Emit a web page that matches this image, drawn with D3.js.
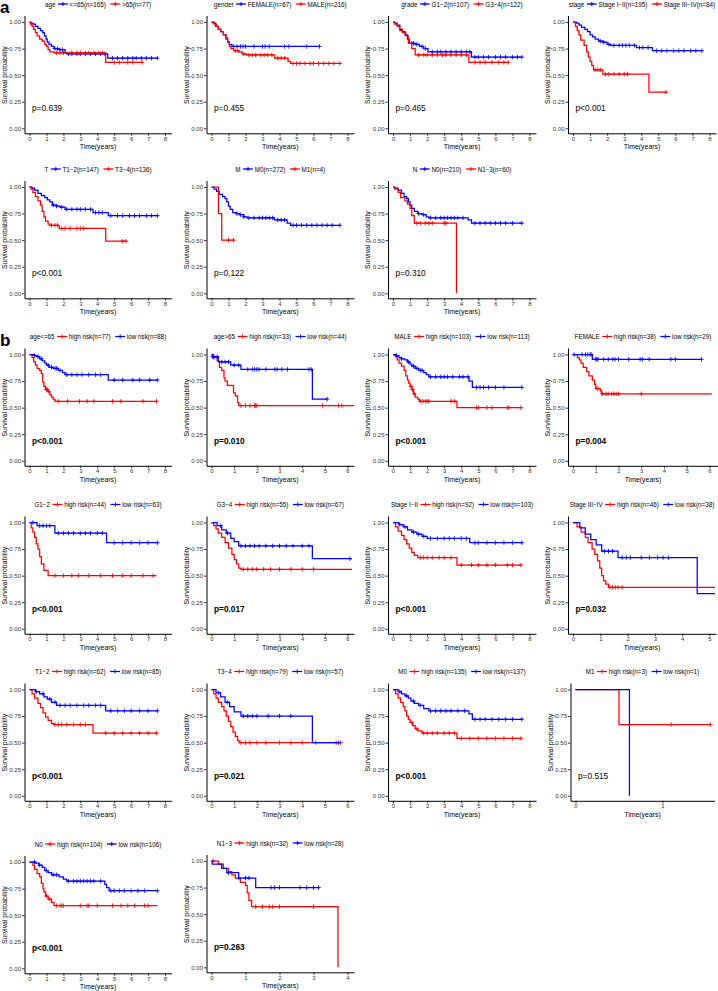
<!DOCTYPE html>
<html>
<head>
<meta charset="utf-8">
<script src="https://cdn.jsdelivr.net/npm/d3@7"></script>
<style>
  body { margin: 0; background: #fff; }
  svg { display: block; font-family: "Liberation Sans", Arial, sans-serif; }
</style>
</head>
<body>
<div id="chart"></div>
<script>
// ---- data: steps are [time, survival from that time on], last pair = end of curve ----
const yTicks = [0, 0.25, 0.5, 0.75, 1];

// a: age
const ageLe65Steps = [[0,1],[0.08,0.99],[0.2,0.98],[0.35,0.96],[0.5,0.94],[0.65,0.92],[0.78,0.9],[0.88,0.87],[0.98,0.84],[1.05,0.81],[1.15,0.79],[1.3,0.77],[1.45,0.75],[1.7,0.74],[2.1,0.71],[2.2,0.7],[4.62,0.66],[7.55,0.66]];
const ageLe65Cens = [1.5,1.65,1.8,1.95,2.3,2.5,2.8,3.0,3.3,3.6,3.9,4.2,4.45,4.9,5.2,5.5,5.8,6.1,6.3,6.6,6.9,7.2,7.55];
const ageGt65Steps = [[0,1],[0.05,0.98],[0.15,0.96],[0.25,0.93],[0.35,0.9],[0.45,0.87],[0.6,0.84],[0.75,0.82],[0.9,0.79],[1.0,0.77],[1.1,0.74],[1.2,0.72],[1.45,0.71],[4.5,0.62],[6.65,0.62]];
const ageGt65Cens = [1.6,1.8,2.0,2.5,2.8,3.0,3.3,3.5,3.8,4.1,4.3,5.0,5.3,5.8,6.1,6.65];
// a: gender
const femaleSteps = [[0,1],[0.1,0.99],[0.25,0.96],[0.4,0.93],[0.55,0.91],[0.7,0.88],[0.85,0.84],[0.95,0.81],[1.05,0.79],[1.2,0.77],[6.35,0.77]];
const femaleCens = [1.3,1.5,1.7,1.85,2.0,2.5,3.0,3.15,3.4,4.3,4.55,5.6,6.35];
const maleSteps = [[0,1],[0.15,0.98],[0.3,0.96],[0.4,0.93],[0.55,0.91],[0.7,0.88],[0.85,0.85],[0.95,0.81],[1.05,0.77],[1.15,0.75],[1.3,0.73],[1.6,0.72],[1.8,0.7],[2.05,0.69],[3.72,0.66],[4.5,0.63],[4.65,0.61],[7.55,0.61]];
const maleCens = [1.4,1.55,1.9,2.2,2.4,2.6,2.9,3.1,3.3,3.55,3.9,4.1,4.3,4.8,5.0,5.2,5.5,5.8,6.0,6.3,6.6,6.9,7.2,7.55];
// a: grade
const g12Steps = [[0,1],[0.1,0.99],[0.25,0.97],[0.4,0.93],[0.55,0.91],[0.7,0.88],[0.85,0.84],[0.95,0.8],[1.3,0.79],[1.55,0.77],[1.8,0.75],[2.05,0.72],[4.6,0.67],[7.55,0.67]];
const g12Cens = [1.1,1.2,1.4,1.7,1.9,2.3,2.6,2.8,3.1,3.4,3.7,4.0,4.3,4.5,4.8,5.0,5.3,5.6,6.0,6.3,6.6,7.0,7.3,7.55];
const g34Steps = [[0,1],[0.1,0.98],[0.25,0.96],[0.4,0.92],[0.55,0.9],[0.75,0.87],[0.9,0.8],[1.1,0.75],[1.3,0.69],[4.45,0.62],[6.75,0.62]];
const g34Cens = [1.5,1.8,2.0,2.3,2.6,2.9,3.1,3.4,3.7,4.0,4.3,4.8,5.1,5.4,5.8,6.2,6.5,6.75];
// a: stage
const st12Steps = [[0,1],[0.2,0.99],[0.35,0.97],[0.5,0.95],[0.7,0.93],[0.85,0.91],[1.0,0.88],[1.15,0.86],[1.3,0.84],[1.5,0.82],[1.75,0.81],[2.0,0.79],[2.2,0.78],[3.72,0.76],[4.65,0.73],[7.55,0.73]];
const st12Cens = [1.6,1.8,2.1,2.4,2.7,2.9,3.1,3.3,3.6,3.9,4.1,4.4,4.9,5.2,5.5,5.9,6.2,6.5,6.9,7.2,7.55];
const st34Steps = [[0,1],[0.15,0.96],[0.25,0.92],[0.35,0.88],[0.45,0.83],[0.65,0.78],[0.8,0.72],[0.9,0.67],[1.0,0.63],[1.1,0.59],[1.2,0.55],[1.75,0.51],[4.45,0.34],[5.45,0.34]];
const st34Cens = [1.3,1.45,1.6,1.9,2.1,2.4,2.7,3.0,3.2,5.45];
// a: T
const t12Steps = [[0,1],[0.15,0.99],[0.3,0.97],[0.5,0.94],[0.7,0.92],[0.9,0.9],[1.05,0.88],[1.2,0.86],[1.35,0.83],[1.6,0.82],[1.8,0.81],[2.1,0.79],[3.75,0.76],[4.65,0.73],[7.55,0.73]];
const t12Cens = [1.4,1.6,1.9,2.2,2.5,2.8,3.0,3.3,3.6,3.9,4.1,4.3,4.8,5.2,5.5,5.9,6.2,6.5,6.9,7.2,7.55];
const t34Steps = [[0,1],[0.1,0.98],[0.2,0.95],[0.35,0.91],[0.5,0.87],[0.65,0.83],[0.75,0.77],[0.85,0.72],[0.95,0.68],[1.1,0.65],[1.2,0.64],[1.75,0.61],[4.5,0.49],[5.7,0.49]];
const t34Cens = [1.3,1.5,1.65,1.9,2.1,2.4,2.8,3.0,3.2,5.5,5.7];
// a: M
const m0Steps = [[0,1],[0.15,0.98],[0.3,0.96],[0.45,0.93],[0.65,0.91],[0.8,0.89],[0.9,0.86],[1.0,0.82],[1.1,0.79],[1.25,0.76],[1.45,0.75],[1.65,0.74],[1.9,0.72],[2.1,0.71],[3.7,0.69],[4.45,0.66],[4.65,0.64],[7.55,0.64]];
const m0Cens = [1.5,1.7,1.9,2.2,2.5,2.8,3.0,3.2,3.4,3.6,3.9,4.1,4.3,4.8,5.0,5.3,5.6,5.9,6.2,6.5,6.8,7.1,7.55];
const m1Steps = [[0,1],[0.41,0.75],[0.6,0.5],[1.3,0.5]];
const m1Cens = [1.0,1.3];
// a: N
const n0Steps = [[0,1],[0.1,0.99],[0.3,0.97],[0.5,0.94],[0.65,0.91],[0.8,0.89],[0.9,0.86],[1.0,0.83],[1.1,0.8],[1.25,0.77],[1.45,0.75],[1.7,0.74],[1.95,0.72],[2.1,0.71],[4.4,0.69],[4.6,0.66],[7.55,0.66]];
const n0Cens = [1.5,1.8,2.2,2.5,2.8,3.0,3.2,3.4,3.6,3.8,4.1,4.8,5.1,5.4,5.7,6.0,6.3,6.6,7.0,7.55];
const n13Steps = [[0,1],[0.1,0.98],[0.3,0.95],[0.45,0.9],[0.7,0.87],[0.85,0.84],[1.0,0.8],[1.1,0.73],[1.25,0.66],[3.72,0]];
const n13Cens = [1.4,1.6,1.9,2.1,2.3,3.0,3.1];

// b: subgroup risk curves (high risk = red, low risk = blue)
const le65HighSteps = [[0,1],[0.15,0.97],[0.25,0.93],[0.35,0.9],[0.45,0.87],[0.6,0.85],[0.7,0.82],[0.78,0.74],[0.85,0.7],[0.95,0.67],[1.1,0.65],[1.2,0.62],[1.3,0.6],[1.4,0.58],[1.5,0.56],[7.5,0.56]];
const le65HighCens = [1.0,1.05,1.15,1.7,2.25,2.95,3.4,3.8,4.9,5.4,6.7,7.5];
const le65LowSteps = [[0,1],[0.3,0.99],[0.45,0.98],[0.6,0.96],[0.75,0.94],[0.9,0.92],[1.0,0.9],[1.15,0.88],[1.4,0.87],[1.7,0.85],[1.95,0.83],[2.1,0.81],[4.65,0.76],[7.55,0.76]];
const le65LowCens = [0.3,0.5,0.7,1.1,1.3,1.5,1.6,1.8,2.2,2.5,2.8,3.1,3.5,3.9,4.2,5.0,5.5,6.1,6.5,7.1,7.55];

const gt65HighSteps = [[0,1],[0.1,0.97],[0.25,0.94],[0.35,0.88],[0.45,0.85],[0.55,0.78],[0.6,0.75],[0.7,0.71],[0.97,0.64],[1.05,0.61],[1.15,0.55],[1.2,0.52],[6.3,0.52]];
const gt65HighCens = [0.1,1.3,1.5,1.7,1.9,1.95,2.0,4.9,5.6,5.75];
const gt65LowSteps = [[0,1],[0.05,0.98],[0.3,0.93],[0.85,0.9],[1.3,0.86],[4.45,0.58],[5.1,0.58]];
const gt65LowCens = [0.05,0.25,0.45,0.6,0.75,1.0,1.2,1.6,1.8,1.9,2.0,2.1,2.4,2.8,2.9,3.1,3.35,4.3,4.4,5.1];

const maleHighSteps = [[0,1],[0.15,0.98],[0.25,0.95],[0.35,0.92],[0.5,0.89],[0.65,0.85],[0.75,0.8],[0.85,0.76],[0.92,0.73],[1.0,0.7],[1.1,0.67],[1.2,0.63],[1.3,0.6],[1.45,0.58],[1.55,0.56],[3.75,0.5],[7.5,0.5]];
const maleHighCens = [1.05,1.15,1.25,1.6,1.75,1.9,2.0,2.1,3.4,3.6,4.9,5.0,5.5,5.8,6.7,6.8,7.5];
const maleLowSteps = [[0,1],[0.2,0.99],[0.35,0.97],[0.5,0.96],[0.7,0.95],[0.85,0.93],[1.0,0.91],[1.1,0.89],[1.3,0.87],[1.5,0.85],[1.8,0.83],[1.95,0.81],[2.1,0.79],[4.45,0.75],[4.65,0.69],[7.55,0.69]];
const maleLowCens = [0.2,0.5,0.9,1.2,1.4,1.6,1.7,2.2,2.5,2.8,3.0,3.2,3.5,3.9,4.1,4.4,4.9,5.1,5.3,5.6,6.0,6.5,7.55];

const femaleHighSteps = [[0,1],[0.2,0.97],[0.28,0.95],[0.35,0.92],[0.45,0.88],[0.6,0.84],[0.7,0.8],[0.85,0.76],[0.95,0.72],[1.0,0.68],[1.2,0.66],[1.25,0.63],[6.1,0.63]];
const femaleHighCens = [1.05,1.1,1.3,1.45,1.55,1.7,1.8,1.9,2.0,3.0];
const femaleLowSteps = [[0,1],[0.85,0.955],[5.65,0.955]];
const femaleLowCens = [0.05,0.4,0.55,0.65,0.75,0.8,1.0,1.05,1.1,1.35,1.55,1.75,1.85,2.0,2.45,2.95,3.05,3.35,4.3,4.5,5.65];

const g12HighSteps = [[0,1],[0.1,0.95],[0.2,0.91],[0.3,0.86],[0.4,0.8],[0.5,0.75],[0.6,0.68],[0.7,0.61],[0.85,0.55],[1.1,0.5],[7.5,0.5]];
const g12HighCens = [1.5,2.0,2.5,2.9,3.5,4.2,4.9,5.5,6.0,6.7,7.3];
const g12LowSteps = [[0,1],[0.45,0.97],[1.5,0.9],[4.55,0.81],[7.55,0.81]];
const g12LowCens = [0.2,0.6,0.8,1.0,1.2,1.7,2.0,2.3,2.6,3.0,3.3,3.6,4.0,4.3,5.0,5.5,6.0,6.5,7.0,7.55];

const g34HighSteps = [[0,1],[0.1,0.97],[0.2,0.94],[0.3,0.9],[0.45,0.86],[0.6,0.81],[0.75,0.76],[0.9,0.7],[1.0,0.65],[1.1,0.61],[1.2,0.57],[1.3,0.56],[6.2,0.56]];
const g34HighCens = [1.4,1.6,1.8,2.0,2.3,2.6,3.0,3.5,4.0,4.5];
const g34LowSteps = [[0,1],[0.25,0.97],[0.45,0.93],[0.65,0.9],[0.85,0.85],[1.0,0.82],[1.2,0.78],[4.45,0.66],[6.2,0.66]];
const g34LowCens = [0.4,0.7,1.3,1.5,1.7,1.9,2.1,2.4,2.7,3.0,3.3,3.6,4.0,4.3,6.1];

const s12HighSteps = [[0,1],[0.15,0.96],[0.3,0.92],[0.5,0.88],[0.65,0.84],[0.8,0.8],[0.95,0.76],[1.1,0.72],[1.25,0.69],[1.45,0.67],[3.75,0.6],[7.5,0.6]];
const s12HighCens = [1.6,1.8,2.0,2.3,2.7,3.0,3.4,4.0,4.6,5.0,5.5,6.0,6.7,7.0,7.5];
const s12LowSteps = [[0,1],[0.35,0.98],[0.6,0.96],[0.85,0.93],[1.1,0.91],[1.4,0.89],[1.7,0.87],[2.0,0.85],[4.5,0.81],[7.55,0.81]];
const s12LowCens = [0.4,0.7,1.2,1.5,1.8,2.2,2.6,3.0,3.3,3.6,4.0,4.3,4.8,5.0,5.5,6.0,6.5,7.0,7.55];

const s34HighSteps = [[0,1],[0.15,0.96],[0.3,0.91],[0.45,0.86],[0.55,0.81],[0.7,0.75],[0.8,0.7],[0.9,0.64],[0.98,0.57],[1.05,0.5],[1.12,0.45],[1.2,0.42],[1.3,0.39],[5.2,0.39]];
const s34HighCens = [1.35,1.45,1.55,1.65,1.8];
const s34LowSteps = [[0,1],[0.25,0.95],[0.45,0.89],[0.65,0.84],[0.85,0.79],[1.05,0.73],[1.65,0.67],[4.55,0.33],[5.2,0.33]];
const s34LowCens = [1.15,1.3,1.45,1.8,1.95,2.1,2.5,2.8,3.1,3.3,3.5];

const t12HighSteps = [[0,1],[0.15,0.96],[0.3,0.92],[0.5,0.87],[0.65,0.83],[0.8,0.78],[0.95,0.74],[1.1,0.71],[1.3,0.68],[1.45,0.67],[3.75,0.59],[7.5,0.59]];
const t12HighCens = [1.5,1.7,1.9,2.2,2.6,3.0,3.3,4.5,5.0,5.5,6.0,6.5,7.0,7.5];
const t12LowSteps = [[0,1],[0.35,0.98],[0.6,0.96],[0.85,0.93],[1.05,0.91],[1.3,0.88],[1.6,0.85],[4.5,0.8],[7.55,0.8]];
const t12LowCens = [0.4,0.8,1.2,1.5,1.8,2.1,2.4,2.8,3.2,3.5,3.9,4.2,4.8,5.2,5.6,6.0,6.5,7.0,7.55];

const t34HighSteps = [[0,1],[0.1,0.96],[0.2,0.92],[0.3,0.88],[0.45,0.84],[0.55,0.8],[0.65,0.75],[0.75,0.7],[0.85,0.65],[0.95,0.6],[1.05,0.56],[1.15,0.52],[1.22,0.5],[5.7,0.5]];
const t34HighCens = [1.3,1.5,1.7,2.0,2.4,3.0,3.5,4.0,4.6,5.5,5.7];
const t34LowSteps = [[0,1],[0.2,0.97],[0.4,0.93],[0.6,0.88],[0.8,0.84],[1.0,0.79],[1.3,0.75],[4.45,0.5],[5.7,0.5]];
const t34LowCens = [0.3,0.7,1.4,1.6,1.8,2.0,2.5,3.0,3.5,5.6];

const m0HighSteps = [[0,1],[0.15,0.96],[0.3,0.92],[0.45,0.88],[0.6,0.84],[0.7,0.8],[0.8,0.75],[0.9,0.72],[1.0,0.69],[1.15,0.66],[1.3,0.63],[1.45,0.61],[1.7,0.59],[3.75,0.54],[7.5,0.54]];
const m0HighCens = [1.1,1.4,1.8,2.0,2.3,2.6,3.0,3.3,3.6,4.0,4.5,5.0,5.5,6.0,6.5,7.0,7.5];
const m0LowSteps = [[0,1],[0.3,0.98],[0.5,0.96],[0.7,0.94],[0.9,0.92],[1.05,0.89],[1.25,0.87],[1.5,0.85],[1.8,0.82],[2.1,0.8],[4.45,0.77],[4.65,0.72],[7.55,0.72]];
const m0LowCens = [0.4,0.8,1.2,1.6,2.2,2.5,2.8,3.1,3.4,3.8,4.2,4.8,5.1,5.4,5.8,6.2,6.6,7.0,7.55];

const m1HighSteps = [[0,1],[0.5,0.67],[1.55,0.67]];
const m1HighCens = [1.1,1.55];
const m1LowSteps = [[0,1],[0.62,0]];
const m1LowCens = [];

const n0HighSteps = [[0,1],[0.2,0.97],[0.3,0.93],[0.45,0.89],[0.6,0.86],[0.7,0.8],[0.8,0.75],[0.85,0.72],[0.95,0.68],[1.1,0.65],[1.3,0.62],[1.45,0.59],[7.55,0.59]];
const n0HighCens = [1.0,1.2,1.6,1.8,1.9,2.0,3.0,3.4,3.5,4.0,4.9,5.4,5.8,6.2,6.8,7.0];
const n0LowSteps = [[0,1],[0.35,0.99],[0.55,0.97],[0.75,0.95],[0.9,0.92],[1.1,0.9],[1.3,0.88],[1.75,0.86],[2.0,0.84],[2.2,0.82],[4.45,0.79],[4.55,0.76],[4.7,0.73],[7.55,0.73]];
const n0LowCens = [0.3,0.6,1.0,1.4,1.6,2.3,2.6,2.8,3.0,3.2,3.4,3.6,3.8,4.2,4.8,5.0,5.3,5.6,6.0,6.4,6.8,7.55];

const n13HighSteps = [[0,1],[0.2,0.97],[0.35,0.93],[0.5,0.9],[0.6,0.87],[0.7,0.84],[0.85,0.8],[1.0,0.77],[1.05,0.7],[1.1,0.63],[1.18,0.57],[3.72,0]];
const n13HighCens = [0.05,1.3,1.5,1.7,1.8,2.0,3.0];
const n13LowSteps = [[0,1],[0.02,0.97],[0.3,0.93],[0.45,0.89],[0.8,0.84],[1.3,0.75],[3.15,0.75]];
const n13LowCens = [0.5,0.8,1.0,1.1,1.75,1.85,2.0,2.6,2.8,3.0,3.15];

// ---- layout ----
const BLUE = '#0000FF';
const RED = '#FF0000';
const colX = [0, 179.5, 359, 538.5];
const colZero = [29.5, 32, 34, 34.5];
const colMax = [165, 168, 170.5, 171];
const PLOT_H = 106.3;

const svg = d3.select('#chart').append('svg').attr('width', 718).attr('height', 991);

const hi = (n) => `high risk(n=${n})`;
const lo = (n) => `low risk(n=${n})`;
const grp = (label, color, steps, cens) => ({label, color, steps, cens});

const panels = [
  {col: 0, y1: 22, tmax: 8, title: 'age', p: 'p=0.639', groups: [grp('<=65(n=165)', BLUE, ageLe65Steps, ageLe65Cens), grp('>65(n=77)', RED, ageGt65Steps, ageGt65Cens)]},
  {col: 1, y1: 22, tmax: 8, title: 'gender', p: 'p=0.455', groups: [grp('FEMALE(n=67)', BLUE, femaleSteps, femaleCens), grp('MALE(n=216)', RED, maleSteps, maleCens)]},
  {col: 2, y1: 22, tmax: 8, title: 'grade', p: 'p=0.465', groups: [grp('G1−2(n=107)', BLUE, g12Steps, g12Cens), grp('G3−4(n=122)', RED, g34Steps, g34Cens)]},
  {col: 3, y1: 22, tmax: 8, title: 'stage', p: 'p<0.001', groups: [grp('Stage I−II(n=195)', BLUE, st12Steps, st12Cens), grp('Stage III−IV(n=84)', RED, st34Steps, st34Cens)]},
  {col: 0, y1: 187, tmax: 8, title: 'T', p: 'p<0.001', groups: [grp('T1−2(n=147)', BLUE, t12Steps, t12Cens), grp('T3−4(n=136)', RED, t34Steps, t34Cens)]},
  {col: 1, y1: 187, tmax: 8, title: 'M', p: 'p=0.122', groups: [grp('M0(n=272)', BLUE, m0Steps, m0Cens), grp('M1(n=4)', RED, m1Steps, m1Cens)]},
  {col: 2, y1: 187, tmax: 8, title: 'N', p: 'p=0.310', groups: [grp('N0(n=210)', BLUE, n0Steps, n0Cens), grp('N1−3(n=60)', RED, n13Steps, n13Cens)]},

  {col: 0, y1: 354.5, tmax: 8, title: 'age<=65', p: 'p<0.001', bold: true, groups: [grp(hi(77), RED, le65HighSteps, le65HighCens), grp(lo(88), BLUE, le65LowSteps, le65LowCens)]},
  {col: 1, y1: 354.5, tmax: 6, title: 'age>65', p: 'p=0.010', bold: true, groups: [grp(hi(33), RED, gt65HighSteps, gt65HighCens), grp(lo(44), BLUE, gt65LowSteps, gt65LowCens)]},
  {col: 2, y1: 354.5, tmax: 8, title: 'MALE', p: 'p<0.001', bold: true, groups: [grp(hi(103), RED, maleHighSteps, maleHighCens), grp(lo(113), BLUE, maleLowSteps, maleLowCens)]},
  {col: 3, y1: 354.5, tmax: 6, title: 'FEMALE', p: 'p=0.004', bold: true, axisEnd: 179.5, groups: [grp(hi(38), RED, femaleHighSteps, femaleHighCens), grp(lo(29), BLUE, femaleLowSteps, femaleLowCens)]},

  {col: 0, y1: 522.5, tmax: 8, title: 'G1−2', p: 'p<0.001', bold: true, groups: [grp(hi(44), RED, g12HighSteps, g12HighCens), grp(lo(63), BLUE, g12LowSteps, g12LowCens)]},
  {col: 1, y1: 522.5, tmax: 6, title: 'G3−4', p: 'p=0.017', bold: true, groups: [grp(hi(55), RED, g34HighSteps, g34HighCens), grp(lo(67), BLUE, g34LowSteps, g34LowCens)]},
  {col: 2, y1: 522.5, tmax: 8, title: 'Stage I−II', p: 'p<0.001', bold: true, groups: [grp(hi(92), RED, s12HighSteps, s12HighCens), grp(lo(103), BLUE, s12LowSteps, s12LowCens)]},
  {col: 3, y1: 522.5, tmax: 5, title: 'Stage III−IV', p: 'p=0.032', bold: true, groups: [grp(hi(46), RED, s34HighSteps, s34HighCens), grp(lo(38), BLUE, s34LowSteps, s34LowCens)]},

  {col: 0, y1: 689.5, tmax: 8, title: 'T1−2', p: 'p<0.001', bold: true, groups: [grp(hi(62), RED, t12HighSteps, t12HighCens), grp(lo(85), BLUE, t12LowSteps, t12LowCens)]},
  {col: 1, y1: 689.5, tmax: 6, title: 'T3−4', p: 'p=0.021', bold: true, groups: [grp(hi(79), RED, t34HighSteps, t34HighCens), grp(lo(57), BLUE, t34LowSteps, t34LowCens)]},
  {col: 2, y1: 689.5, tmax: 8, title: 'M0', p: 'p<0.001', bold: true, groups: [grp(hi(135), RED, m0HighSteps, m0HighCens), grp(lo(137), BLUE, m0LowSteps, m0LowCens)]},
  {col: 3, y1: 689.5, tmax: 1, x0: 37, x1: 124, axisEnd: 176, title: 'M1', p: 'p=0.515', groups: [grp(hi(3), RED, m1HighSteps, m1HighCens), grp(lo(1), BLUE, m1LowSteps, m1LowCens)]},

  {col: 0, y1: 862, tmax: 8, title: 'N0', p: 'p<0.001', bold: true, groups: [grp(hi(104), RED, n0HighSteps, n0HighCens), grp(lo(106), BLUE, n0LowSteps, n0LowCens)]},
  {col: 1, y1: 861, tmax: 4, title: 'N1−3', p: 'p=0.263', bold: true, groups: [grp(hi(32), RED, n13HighSteps, n13HighCens), grp(lo(28), BLUE, n13LowSteps, n13LowCens)]},
];

const survAt = (steps, t) => {
  let s = steps[0][1];
  steps.forEach(([tt, ss]) => { if (tt <= t) s = ss; });
  return s;
};

function drawPanel(p) {
  const ox = colX[p.col];
  const x0 = ox + (p.x0 ?? colZero[p.col]);
  const x1 = ox + (p.x1 ?? colMax[p.col]);
  const x = d3.scaleLinear().domain([0, p.tmax]).range([x0, x1]);
  const y = d3.scaleLinear().domain([0, 1]).range([p.y1 + PLOT_H, p.y1]);

  const axisY = y(0) + 5;
  const axisL = x0 - 5;
  const axisR = p.axisEnd != null ? ox + p.axisEnd : x1 + 6.5;
  const axisTop = p.y1 - 6.5;

  const g = svg.append('g');

  const xa = d3.scaleLinear().domain([x.invert(axisL), x.invert(axisR)]).range([axisL, axisR]);
  const ya = d3.scaleLinear().domain([y.invert(axisY), y.invert(axisTop)]).range([axisY, axisTop]);

  const gx = g.append('g').attr('transform', `translate(0,${axisY})`)
    .call(d3.axisBottom(xa).tickValues(d3.range(0, p.tmax + 1)).tickFormat(d3.format('d'))
      .tickSize(2.5).tickSizeOuter(0).tickPadding(0.8));
  const gy = g.append('g').attr('transform', `translate(${axisL},0)`)
    .call(d3.axisLeft(ya).tickValues(yTicks).tickFormat(d3.format('.2f'))
      .tickSize(2.5).tickSizeOuter(0).tickPadding(1));
  [gx, gy].forEach(ax => {
    ax.select('.domain').attr('stroke', '#000').attr('stroke-width', 1);
    ax.selectAll('.tick line').attr('stroke', '#000').attr('stroke-width', 0.8);
    ax.selectAll('.tick text').attr('fill', '#333').style('font-size', '6px')
      .style('font-family', '"Liberation Sans", Arial, sans-serif');
  });

  g.append('text')
    .attr('transform', `translate(${axisL - 20.5},${(y(0) + y(1)) / 2}) rotate(-90)`)
    .attr('text-anchor', 'middle').attr('dominant-baseline', 'central')
    .style('font-size', '6.9px').text('Survival probability');
  g.append('text')
    .attr('x', (axisL + axisR) / 2).attr('y', y(0) + 18.5)
    .attr('text-anchor', 'middle').attr('dominant-baseline', 'central')
    .style('font-size', '6.9px').text('Time(years)');

  // curves
  const line = d3.line().x(d => x(d[0])).y(d => y(d[1])).curve(d3.curveStepAfter);
  p.groups.forEach(gr => {
    g.append('path').datum(gr.steps).attr('d', line)
      .attr('fill', 'none').attr('stroke', gr.color).attr('stroke-width', 1.25);
    g.selectAll(null).data(gr.cens).enter().append('path')
      .attr('transform', t => `translate(${x(t)},${y(survAt(gr.steps, t))})`)
      .attr('d', 'M-2.2,0H2.2M0,-2.2V2.2')
      .attr('stroke', gr.color).attr('stroke-width', 0.9);
  });

  g.append('text')
    .attr('x', x(0) + 2.5).attr('y', y(0.19))
    .attr('dominant-baseline', 'central')
    .style('font-size', '8.3px').style('font-weight', p.bold ? 'bold' : 'normal')
    .text(p.p);

  // legend
  const ly = p.y1 - 18;
  const lg = g.append('g');
  let cx = 0;
  const title = lg.append('text').attr('x', cx).attr('y', ly).attr('dominant-baseline', 'central')
    .style('font-size', '6.3px').text(p.title);
  cx += title.node().getComputedTextLength() + 2.5;
  p.groups.forEach(gr => {
    lg.append('line').attr('x1', cx).attr('x2', cx + 10).attr('y1', ly).attr('y2', ly)
      .attr('stroke', gr.color).attr('stroke-width', 1.25);
    lg.append('path').attr('transform', `translate(${cx + 5},${ly})`).attr('d', 'M-2.2,0H2.2M0,-2.2V2.2')
      .attr('stroke', gr.color).attr('stroke-width', 0.9);
    cx += 11.7;
    const t = lg.append('text').attr('x', cx).attr('y', ly).attr('dominant-baseline', 'central')
      .style('font-size', '6.3px').text(gr.label);
    cx += t.node().getComputedTextLength() + 4.5;
  });
  const lw = cx - 4.5;
  lg.attr('transform', `translate(${(axisL + axisR) / 2 - lw / 2},0)`);
}

panels.forEach(drawPanel);

svg.append('text').attr('x', 0).attr('y', 12.5).style('font-size', '17px').style('font-weight', 'bold').text('a');
svg.append('text').attr('x', 0).attr('y', 346).style('font-size', '17px').style('font-weight', 'bold').text('b');
</script>
</body>
</html>
